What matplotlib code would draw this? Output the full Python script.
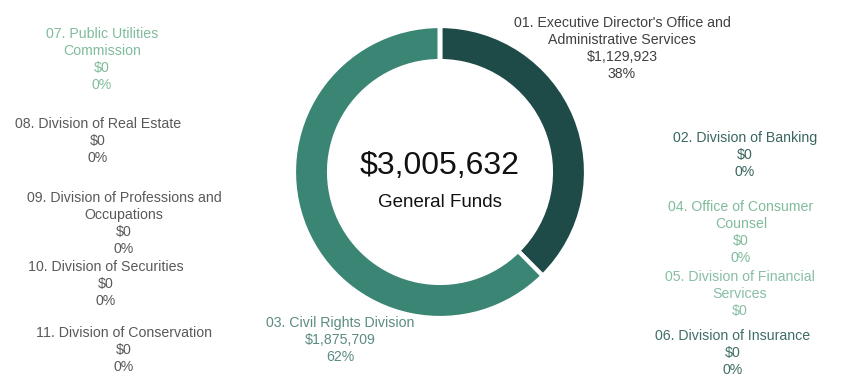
import matplotlib
matplotlib.use("Agg")
import matplotlib.pyplot as plt

plt.rcParams['font.family'] = ['Liberation Sans', 'DejaVu Sans']

# data
divisions = [
    "01. Executive Director's Office and\nAdministrative Services",
    "02. Division of Banking",
    "03. Civil Rights Division",
    "04. Office of Consumer\nCounsel",
    "05. Division of Financial\nServices",
    "06. Division of Insurance",
    "07. Public Utilities\nCommission",
    "08. Division of Real Estate",
    "09. Division of Professions and\nOccupations",
    "10. Division of Securities",
    "11. Division of Conservation",
]
amounts = [1129923, 0, 1875709, 0, 0, 0, 0, 0, 0, 0, 0]
show_pct = [True, True, True, True, False, True, True, True, True, True, True]
total_label = "General Funds"

# styling
slice_colors = ["#1e4a48", "#2c6b60", "#3a8574", "#6fb592", "#7fbf9e",
                "#3d7268", "#7cc19a", "#595959", "#595959", "#595959", "#595959"]
text_colors = ["#404040", "#3a6660", "#5b8b82", "#80bb9c", "#88bea4",
               "#3f6e66", "#80bc9c", "#595959", "#595959", "#595959", "#595959"]
# label anchor (center x, first line center y) in pixels
label_pos = [(622, 22), (745, 137), (340, 322), (741, 206), (740, 276),
             (733, 335), (102, 33), (98, 123), (124, 197), (106, 266), (124, 332)]

W, H = 850, 388
fig = plt.figure(figsize=(W / 100, H / 100), dpi=100)

cx, cy, r = 440, 172, 146
ax = fig.add_axes([(cx - r) / W, (H - cy - r) / H, 2 * r / W, 2 * r / H])
ax.pie(amounts, colors=slice_colors, startangle=90, counterclock=False,
       radius=1, wedgeprops=dict(width=0.24, edgecolor="white", linewidth=3))
ax.set_xlim(-1, 1)
ax.set_ylim(-1, 1)
ax.set_aspect("equal")
ax.axis("off")

total = sum(amounts)
ax.text(0, 0.04, "${:,}".format(total), ha="center", va="center",
        fontsize=23, color="#111111")
ax.text(0, -0.21, total_label, ha="center", va="center",
        fontsize=13.5, color="#111111")

for name, amt, pct, col, (px, py) in zip(divisions, amounts, show_pct,
                                         text_colors, label_pos):
    lines = name + "\n${:,}".format(amt)
    if pct:
        lines += "\n{:.0f}%".format(100 * amt / total)
    fig.text(px / W, 1 - (py - 6) / H, lines, ha="center", va="top",
             fontsize=10.2, color=col, linespacing=1.27)

fig.savefig("out.png", dpi=100, facecolor="white")
